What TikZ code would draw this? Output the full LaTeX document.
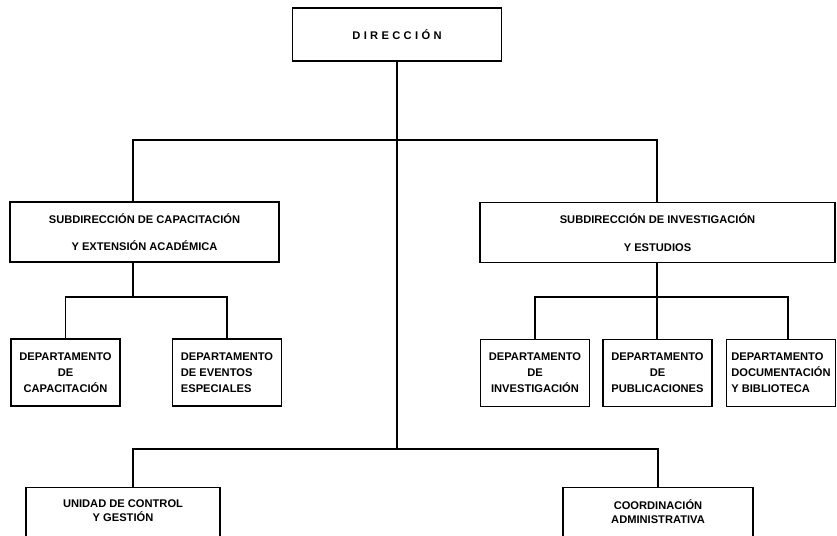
\documentclass[tikz,border=0pt]{standalone}
\usepackage{fontspec}
\setmainfont{Liberation Sans}
\usetikzlibrary{positioning}
\tikzset{
  unit/.style={draw, line width=1.1pt, inner sep=2pt, align=center,
    font=\bfseries\fontsize{9.5}{13.6}\selectfont},
  dept/.style={unit, minimum width=3.27cm, minimum height=2.01cm},
  subdir/.style={unit, minimum height=1.8cm},
  lowunit/.style={unit, anchor=north, minimum height=3cm},
  lowtext/.style={align=center, anchor=north, inner sep=0pt, yshift=-0.38cm,
    font=\bfseries\fontsize{9.5}{11.5}\selectfont},
  link/.style={line width=1.1pt}
}

\begin{document}
\begin{tikzpicture}[x=0.03cm,y=-0.03cm]
  \useasboundingbox (0,0) rectangle (837,536);
  \clip (0,0) rectangle (837,536);

  \node[unit, minimum width=6.27cm, minimum height=1.59cm,
    font=\bfseries\fontsize{9.5}{11}\selectfont\addfontfeature{LetterSpace=30}]
    (dir) at (397,34.5) {DIRECCIÓN};

  \node[subdir, minimum width=8.07cm] (subL) at (144.5,232)
    {SUBDIRECCIÓN DE CAPACITACIÓN\\[10pt] Y EXTENSIÓN ACADÉMICA};
  \node[subdir, minimum width=10.65cm] (subR) at (657.5,232.5)
    {SUBDIRECCIÓN DE INVESTIGACIÓN\\[10pt] Y ESTUDIOS};

  \node[dept] (depCap) at (65.5,372.5) {DEPARTAMENTO\\ DE\\ CAPACITACIÓN};
  \node[dept, align=left] (depEve) at (227,372.5) {DEPARTAMENTO\\ DE EVENTOS\\ ESPECIALES};
  \node[dept] (depInv) at (535,373) {DEPARTAMENTO\\ DE\\ INVESTIGACIÓN};
  \node[dept] (depPub) at (657.5,373) {DEPARTAMENTO\\ DE\\ PUBLICACIONES};
  \node[dept, align=left] (depDoc) at (781,373) {DEPARTAMENTO\\ DOCUMENTACIÓN\\ Y BIBLIOTECA};

  \node[lowunit, minimum width=5.82cm,
    label={[lowtext]north:UNIDAD DE CONTROL\\ Y GESTIÓN}] (uni) at (123,487) {};
  \node[lowunit, minimum width=5.7cm,
    label={[lowtext]north:COORDINACIÓN\\ ADMINISTRATIVA}] (coo) at (658,487) {};

  \coordinate (topL) at (133,140);
  \coordinate (topR) at (657,140);
  \coordinate (midL) at (133,297);
  \coordinate (midR) at (657,297);
  \coordinate (jDoc) at (788,297);
  \coordinate (botC) at (397,449);
  \coordinate (botL) at (133,449);
  \coordinate (botR) at (658,449);

  \draw[link] (dir.south) -- (botC);
  \draw[link] (topL |- subL.north) -- (topL) -- (topR) -- (topR |- subR.north);
  \draw[link] (midL |- subL.south) -- (midL);
  \draw[link] (depCap.north) -- (depCap |- midL) -- (depEve |- midL) -- (depEve.north);
  \draw[link] (midR |- subR.south) -- (midR) -- (midR |- depPub.north);
  \draw[link] (depInv.north) -- (depInv |- midR) -- (jDoc) -- (jDoc |- depDoc.north);
  \draw[link] (botL |- uni.north) -- (botL) -- (botR) -- (botR |- coo.north);
\end{tikzpicture}
\end{document}
